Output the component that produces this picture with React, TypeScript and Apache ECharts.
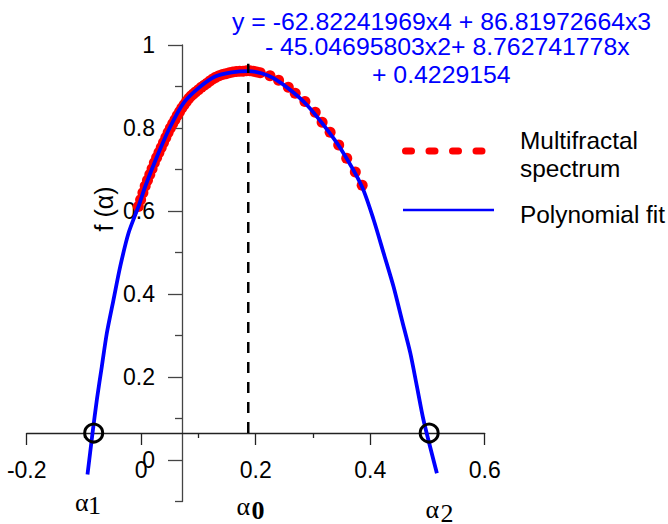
import React, { useEffect, useRef } from "react";
import * as echarts from "echarts";

// Polynomial fit curve
const fitX = [-0.0938, -0.085, -0.0774, -0.0687, -0.060, -0.0484, -0.0367, -0.0221, -0.0047, 0.007, 0.030, 0.0507, 0.0739, 0.100, 0.129, 0.158, 0.187, 0.210, 0.231, 0.260, 0.289, 0.318, 0.348, 0.3855, 0.406, 0.4233, 0.4407, 0.4553, 0.470, 0.4815, 0.493, 0.5165];
const fitY = [-0.035, 0.065, 0.146, 0.226, 0.306, 0.386, 0.466, 0.547, 0.611, 0.659, 0.739, 0.803, 0.860, 0.896, 0.924, 0.934, 0.937, 0.932, 0.920, 0.892, 0.856, 0.808, 0.751, 0.659, 0.579, 0.499, 0.418, 0.338, 0.258, 0.178, 0.097, -0.032];

// Multifractal spectrum points
const specX = [-0.005, -0.001, 0.003, 0.007, 0.011, 0.015, 0.019, 0.023, 0.027, 0.031, 0.035, 0.039, 0.043, 0.047, 0.051, 0.055, 0.059, 0.063, 0.067, 0.071, 0.075, 0.079, 0.083, 0.087, 0.091, 0.095, 0.100, 0.105, 0.110, 0.115, 0.120, 0.125, 0.130, 0.136, 0.142, 0.148, 0.154, 0.160, 0.166, 0.172, 0.178, 0.184, 0.190, 0.196, 0.202, 0.208, 0.225, 0.240, 0.257, 0.269, 0.286, 0.304, 0.316, 0.330, 0.345, 0.359, 0.374, 0.386];
const specY = [0.611, 0.627, 0.644, 0.660, 0.674, 0.688, 0.702, 0.716, 0.729, 0.741, 0.753, 0.765, 0.777, 0.789, 0.800, 0.810, 0.820, 0.830, 0.839, 0.848, 0.856, 0.864, 0.871, 0.877, 0.882, 0.887, 0.892, 0.898, 0.903, 0.908, 0.913, 0.918, 0.922, 0.926, 0.929, 0.931, 0.933, 0.935, 0.936, 0.937, 0.937, 0.938, 0.938, 0.937, 0.935, 0.933, 0.926, 0.915, 0.898, 0.884, 0.864, 0.838, 0.814, 0.790, 0.759, 0.727, 0.694, 0.662];

// Key alpha values
const alpha1 = -0.083;
const alpha0 = 0.187;
const alpha2 = 0.503;
const axisCrossY = 0.065;
const alpha0Top = 0.955;

// Tick values
const xTicks = [-0.2, 0, 0.2, 0.4, 0.6];
const yLabelTicks = [0, 0.2, 0.4, 0.6, 0.8, 1];
const yMinorTicks = [-0.1, 0.1, 0.3, 0.5, 0.7, 0.9];

const eqLines = [
  "y = -62.82241969x4 + 86.81972664x3",
  " - 45.04695803x2+ 8.762741778x",
  "+ 0.4229154",
];

const SANS = "Arial, 'Liberation Sans', sans-serif";
const SERIF = "'Times New Roman', 'Liberation Serif', serif";

export default function App() {
  const ref = useRef<HTMLDivElement>(null);
  useEffect(() => {
    if (!ref.current) return;
    const chart = echarts.init(ref.current, undefined, { renderer: "svg" });
    const L = 26.7, W = 458, T = 45, H = 456.5;
    const axisColor = "#222";
    const option: any = {
      animation: false,
      backgroundColor: "#fff",
      grid: [
        { left: L, top: T, width: W, height: H },
        { left: L, top: T, width: W, height: 388 },
        { left: 182, top: T, width: 100, height: H },
      ],
      xAxis: [
        { gridIndex: 0, type: "value", min: -0.2, max: 0.6, show: false },
        {
          gridIndex: 1, type: "value", min: -0.2, max: 0.6, interval: 0.2, position: "bottom",
          axisLine: { show: true, lineStyle: { color: axisColor, width: 1.3 } },
          axisTick: { show: true, length: 12, lineStyle: { color: axisColor, width: 1.3 } },
          minorTick: { show: true, splitNumber: 2, length: 5, lineStyle: { color: axisColor, width: 1.3 } },
          splitLine: { show: false },
          axisLabel: {
            margin: 25, fontSize: 23, color: "#000", fontFamily: SANS,
            customValues: xTicks,
            formatter: (v: number) => String(Math.round(v * 10) / 10),
          },
        },
        { gridIndex: 2, type: "value", min: 0, max: 1, show: false },
      ],
      yAxis: [
        { gridIndex: 0, type: "value", min: -0.1, max: 1, show: false },
        { gridIndex: 1, type: "value", min: 0, max: 1, show: false },
        {
          gridIndex: 2, type: "value", min: -0.1, max: 1, position: "left",
          axisLine: { show: true, lineStyle: { color: "#444", width: 1.3 } },
          axisTick: { show: true, length: 14, customValues: yLabelTicks, lineStyle: { color: "#444", width: 1.3 } },
          splitLine: { show: false },
          axisLabel: {
            margin: 27, fontSize: 23, color: "#000", fontFamily: SANS,
            customValues: yLabelTicks,
            formatter: (v: number) => String(Math.round(v * 10) / 10),
          },
        },
        {
          gridIndex: 2, type: "value", min: -0.1, max: 1, position: "left",
          axisLine: { show: false },
          axisTick: { show: true, length: 7, customValues: yMinorTicks, lineStyle: { color: "#444", width: 1.3 } },
          splitLine: { show: false },
          axisLabel: { show: false },
        },
      ],
      series: [
        {
          type: "scatter", xAxisIndex: 0, yAxisIndex: 0, z: 2,
          symbol: "circle", symbolSize: 11,
          itemStyle: { color: "#ff0000", opacity: 1 },
          data: specX.map((x, i) => [x, specY[i]]),
        },
        {
          type: "line", xAxisIndex: 0, yAxisIndex: 0, z: 3,
          smooth: 0.25, showSymbol: false,
          lineStyle: { color: "#0000ff", width: 3.8 },
          data: fitX.map((x, i) => [x, fitY[i]]),
        },
        {
          type: "line", xAxisIndex: 0, yAxisIndex: 0, z: 4,
          showSymbol: false,
          lineStyle: { color: "#000", width: 2.5, type: [11, 9] },
          data: [[alpha0, axisCrossY], [alpha0, alpha0Top]],
        },
        {
          type: "scatter", xAxisIndex: 0, yAxisIndex: 0, z: 5,
          symbol: "circle", symbolSize: 18,
          itemStyle: { color: "rgba(0,0,0,0)", borderColor: "#000", borderWidth: 3, opacity: 1 },
          data: [[alpha1, axisCrossY], [alpha2, axisCrossY]],
        },
      ],
      graphic: [
        ...eqLines.map((t, i) => ({
          type: "text",
          x: [232, 258, 372][i], y: [21, 46, 74][i],
          style: { text: t, font: `24.8px ${SANS}`, fill: "#0000ff", align: "left", verticalAlign: "middle" },
        })),
        {
          type: "line",
          shape: { x1: 405.5, y1: 151, x2: 482, y2: 151 },
          style: { stroke: "#ff0000", lineWidth: 7, lineDash: [6, 17.5], lineCap: "round" },
        },
        {
          type: "line",
          shape: { x1: 403, y1: 210, x2: 494, y2: 210 },
          style: { stroke: "#0000ff", lineWidth: 2.5 },
        },
        { type: "text", x: 520, y: 140, style: { text: "Multifractal", font: `24.4px ${SANS}`, fill: "#000", verticalAlign: "middle" } },
        { type: "text", x: 520, y: 168, style: { text: "spectrum", font: `24.4px ${SANS}`, fill: "#000", verticalAlign: "middle" } },
        { type: "text", x: 520, y: 214, style: { text: "Polynomial fit", font: `24.4px ${SANS}`, fill: "#000", verticalAlign: "middle" } },
        {
          type: "text", x: 103.5, y: 209, rotation: Math.PI / 2,
          style: { text: "f (α)", font: `25px ${SANS}`, fill: "#000", align: "center", verticalAlign: "middle" },
        },
        { type: "text", x: 75, y: 502, style: { text: "α", font: `26px ${SERIF}`, fill: "#000", verticalAlign: "middle" } },
        { type: "text", x: 88, y: 505, style: { text: "1", font: `26px ${SERIF}`, fill: "#000", verticalAlign: "middle" } },
        { type: "text", x: 236.5, y: 506.5, style: { text: "α", font: `26px ${SERIF}`, fill: "#000", verticalAlign: "middle" } },
        { type: "text", x: 251.5, y: 510, style: { text: "0", font: `bold 26px ${SERIF}`, fill: "#000", verticalAlign: "middle" } },
        { type: "text", x: 425.5, y: 509.5, style: { text: "α", font: `26px ${SERIF}`, fill: "#000", verticalAlign: "middle" } },
        { type: "text", x: 440.5, y: 513, style: { text: "2", font: `26px ${SERIF}`, fill: "#000", verticalAlign: "middle" } },
      ],
    };
    chart.setOption(option);
    return () => chart.dispose();
  }, []);
  return <div ref={ref} style={{ width: 668, height: 524, position: "absolute", left: 0, top: 0 }} />;
}
